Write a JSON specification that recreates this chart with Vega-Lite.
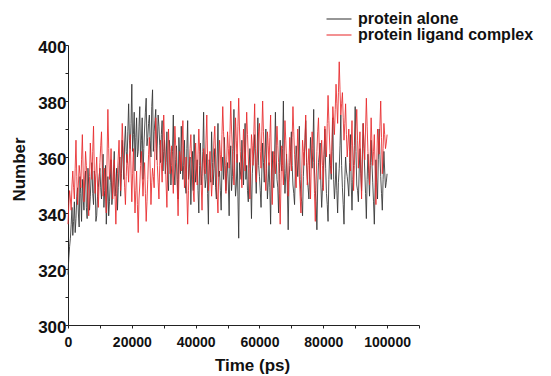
{
"$schema":"https://vega.github.io/schema/vega-lite/v6.json",
"width":351,"height":280,"autosize":"none",
"padding":{"left":68,"top":45,"right":132,"bottom":51},
"config":{"view":{"stroke":null},"font":"Liberation Sans"},
"data":{"values":[
{"t":0,"a":318,"b":336},{"t":250,"a":324,"b":343},{"t":500,"a":328,"b":348},{"t":750,"a":331,"b":345},{"t":1000,"a":336,"b":341},{"t":1250,"a":342,"b":350},{"t":1500,"a":332,"b":355},{"t":1750,"a":337,"b":349},{"t":2000,"a":344,"b":345},{"t":2250,"a":333,"b":356},
{"t":2500,"a":338,"b":366},{"t":2750,"a":346,"b":353},{"t":3000,"a":349,"b":343},{"t":3250,"a":340,"b":350},{"t":3500,"a":335,"b":357},{"t":3750,"a":353,"b":354},{"t":4000,"a":347,"b":349},{"t":4250,"a":337,"b":359},{"t":4500,"a":352,"b":368},{"t":4750,"a":345,"b":355},
{"t":5000,"a":341,"b":344},{"t":5250,"a":350,"b":352},{"t":5500,"a":355,"b":362},{"t":5750,"a":342,"b":357},{"t":6000,"a":338,"b":351},{"t":6250,"a":356,"b":345},{"t":6500,"a":350,"b":339},{"t":6750,"a":341,"b":353},{"t":7000,"a":346,"b":365},{"t":7250,"a":353,"b":358},
{"t":7500,"a":358,"b":352},{"t":7750,"a":347,"b":362},{"t":8000,"a":343,"b":371},{"t":8250,"a":355,"b":355},{"t":8500,"a":352,"b":347},{"t":8750,"a":337,"b":354},{"t":9000,"a":339,"b":360},{"t":9250,"a":346,"b":350},{"t":9500,"a":349,"b":342},{"t":9750,"a":353,"b":351},
{"t":10000,"a":356,"b":358},{"t":10250,"a":349,"b":364},{"t":10500,"a":345,"b":369},{"t":10750,"a":354,"b":356},{"t":11000,"a":361,"b":346},{"t":11250,"a":342,"b":351},{"t":11500,"a":348,"b":356},{"t":11750,"a":357,"b":347},{"t":12000,"a":336,"b":340},{"t":12250,"a":345,"b":360},
{"t":12500,"a":353,"b":377},{"t":12750,"a":339,"b":363},{"t":13000,"a":344,"b":352},{"t":13250,"a":351,"b":356},{"t":13500,"a":359,"b":363},{"t":13750,"a":343,"b":353},{"t":14000,"a":347,"b":345},{"t":14250,"a":355,"b":351},{"t":14500,"a":362,"b":359},{"t":14750,"a":346,"b":346},
{"t":15000,"a":350,"b":336},{"t":15250,"a":356,"b":347},{"t":15500,"a":341,"b":354},{"t":15750,"a":349,"b":360},{"t":16000,"a":357,"b":366},{"t":16250,"a":360,"b":356},{"t":16500,"a":346,"b":348},{"t":16750,"a":354,"b":361},{"t":17000,"a":366,"b":372},{"t":17250,"a":359,"b":364},
{"t":17500,"a":352,"b":357},{"t":17750,"a":365,"b":349},{"t":18000,"a":371,"b":343},{"t":18250,"a":362,"b":353},{"t":18500,"a":358,"b":361},{"t":18750,"a":369,"b":357},{"t":19000,"a":379,"b":351},{"t":19250,"a":366,"b":360},{"t":19500,"a":363,"b":368},{"t":19750,"a":372,"b":355},
{"t":20000,"a":386,"b":344},{"t":20250,"a":362,"b":354},{"t":20500,"a":368,"b":363},{"t":20750,"a":376,"b":350},{"t":21000,"a":355,"b":340},{"t":21250,"a":367,"b":348},{"t":21500,"a":374,"b":355},{"t":21750,"a":360,"b":343},{"t":22000,"a":362,"b":333},{"t":22250,"a":371,"b":345},
{"t":22500,"a":378,"b":350},{"t":22750,"a":358,"b":357},{"t":23000,"a":366,"b":362},{"t":23250,"a":374,"b":353},{"t":23500,"a":352,"b":346},{"t":23750,"a":363,"b":353},{"t":24000,"a":370,"b":358},{"t":24250,"a":376,"b":347},{"t":24500,"a":381,"b":337},{"t":24750,"a":364,"b":344},
{"t":25000,"a":367,"b":352},{"t":25250,"a":372,"b":361},{"t":25500,"a":375,"b":367},{"t":25750,"a":366,"b":356},{"t":26000,"a":360,"b":343},{"t":26250,"a":378,"b":351},{"t":26500,"a":384,"b":356},{"t":26750,"a":362,"b":353},{"t":27000,"a":369,"b":349},{"t":27250,"a":373,"b":363},
{"t":27500,"a":377,"b":374},{"t":27750,"a":359,"b":364},{"t":28000,"a":365,"b":357},{"t":28250,"a":375,"b":351},{"t":28500,"a":371,"b":345},{"t":28750,"a":364,"b":357},{"t":29000,"a":358,"b":366},{"t":29250,"a":368,"b":358},{"t":29500,"a":373,"b":351},{"t":29750,"a":355,"b":363},
{"t":30000,"a":362,"b":375},{"t":30250,"a":366,"b":366},{"t":30500,"a":354,"b":360},{"t":30750,"a":358,"b":350},{"t":31000,"a":369,"b":342},{"t":31250,"a":352,"b":358},{"t":31500,"a":348,"b":370},{"t":31750,"a":366,"b":361},{"t":32000,"a":362,"b":354},{"t":32250,"a":350,"b":358},
{"t":32500,"a":357,"b":364},{"t":32750,"a":362,"b":355},{"t":33000,"a":375,"b":347},{"t":33250,"a":355,"b":360},{"t":33500,"a":350,"b":371},{"t":33750,"a":359,"b":364},{"t":34000,"a":364,"b":358},{"t":34250,"a":352,"b":349},{"t":34500,"a":345,"b":339},{"t":34750,"a":367,"b":352},
{"t":35000,"a":360,"b":362},{"t":35250,"a":354,"b":359},{"t":35500,"a":371,"b":355},{"t":35750,"a":360,"b":364},{"t":36000,"a":352,"b":373},{"t":36250,"a":357,"b":360},{"t":36500,"a":366,"b":349},{"t":36750,"a":350,"b":354},{"t":37000,"a":347,"b":360},{"t":37250,"a":363,"b":347},
{"t":37500,"a":373,"b":336},{"t":37750,"a":352,"b":348},{"t":38000,"a":356,"b":357},{"t":38250,"a":360,"b":363},{"t":38500,"a":343,"b":368},{"t":38750,"a":355,"b":359},{"t":39000,"a":362,"b":352},{"t":39250,"a":348,"b":348},{"t":39500,"a":368,"b":344},{"t":39750,"a":359,"b":356},
{"t":40000,"a":351,"b":365},{"t":40250,"a":355,"b":357},{"t":40500,"a":359,"b":350},{"t":40750,"a":348,"b":361},{"t":41000,"a":340,"b":370},{"t":41250,"a":357,"b":362},{"t":41500,"a":365,"b":357},{"t":41750,"a":350,"b":350},{"t":42000,"a":354,"b":341},{"t":42250,"a":362,"b":353},
{"t":42500,"a":376,"b":363},{"t":42750,"a":356,"b":358},{"t":43000,"a":349,"b":354},{"t":43250,"a":352,"b":366},{"t":43500,"a":361,"b":375},{"t":43750,"a":347,"b":360},{"t":44000,"a":336,"b":348},{"t":44250,"a":359,"b":356},{"t":44500,"a":357,"b":362},{"t":44750,"a":351,"b":353},
{"t":45000,"a":369,"b":346},{"t":45250,"a":358,"b":352},{"t":45500,"a":350,"b":358},{"t":45750,"a":356,"b":366},{"t":46000,"a":363,"b":371},{"t":46250,"a":349,"b":361},{"t":46500,"a":345,"b":352},{"t":46750,"a":360,"b":346},{"t":47000,"a":372,"b":340},{"t":47250,"a":353,"b":355},
{"t":47500,"a":355,"b":366},{"t":47750,"a":348,"b":361},{"t":48000,"a":341,"b":355},{"t":48250,"a":356,"b":368},{"t":48500,"a":360,"b":378},{"t":48750,"a":352,"b":369},{"t":49000,"a":367,"b":361},{"t":49250,"a":357,"b":353},{"t":49500,"a":348,"b":347},{"t":49750,"a":354,"b":359},
{"t":50000,"a":358,"b":369},{"t":50250,"a":350,"b":363},{"t":50500,"a":339,"b":356},{"t":50750,"a":357,"b":368},{"t":51000,"a":364,"b":380},{"t":51250,"a":348,"b":370},{"t":51500,"a":353,"b":363},{"t":51750,"a":362,"b":356},{"t":52000,"a":377,"b":350},{"t":52250,"a":355,"b":362},
{"t":52500,"a":346,"b":374},{"t":52750,"a":350,"b":366},{"t":53000,"a":361,"b":358},{"t":53250,"a":346,"b":371},{"t":53500,"a":331,"b":381},{"t":53750,"a":358,"b":370},{"t":54000,"a":355,"b":362},{"t":54250,"a":352,"b":355},{"t":54500,"a":366,"b":349},{"t":54750,"a":359,"b":360},
{"t":55000,"a":350,"b":370},{"t":55250,"a":361,"b":362},{"t":55500,"a":372,"b":355},{"t":55750,"a":352,"b":366},{"t":56000,"a":357,"b":376},{"t":56250,"a":348,"b":368},{"t":56500,"a":344,"b":360},{"t":56750,"a":356,"b":352},{"t":57000,"a":363,"b":345},{"t":57250,"a":350,"b":358},
{"t":57500,"a":338,"b":368},{"t":57750,"a":354,"b":364},{"t":58000,"a":359,"b":357},{"t":58250,"a":362,"b":369},{"t":58500,"a":368,"b":379},{"t":58750,"a":355,"b":363},{"t":59000,"a":347,"b":351},{"t":59250,"a":360,"b":358},{"t":59500,"a":374,"b":365},{"t":59750,"a":357,"b":369},
{"t":60000,"a":353,"b":372},{"t":60250,"a":348,"b":362},{"t":60500,"a":342,"b":356},{"t":60750,"a":355,"b":369},{"t":61000,"a":365,"b":380},{"t":61250,"a":358,"b":369},{"t":61500,"a":351,"b":361},{"t":61750,"a":360,"b":354},{"t":62000,"a":370,"b":348},{"t":62250,"a":356,"b":360},
{"t":62500,"a":345,"b":369},{"t":62750,"a":351,"b":364},{"t":63000,"a":358,"b":357},{"t":63250,"a":349,"b":367},{"t":63500,"a":336,"b":375},{"t":63750,"a":355,"b":358},{"t":64000,"a":362,"b":343},{"t":64250,"a":352,"b":353},{"t":64500,"a":349,"b":362},{"t":64750,"a":361,"b":358},
{"t":65000,"a":376,"b":354},{"t":65250,"a":360,"b":364},{"t":65500,"a":352,"b":371},{"t":65750,"a":349,"b":364},{"t":66000,"a":340,"b":358},{"t":66250,"a":354,"b":347},{"t":66500,"a":366,"b":336},{"t":66750,"a":358,"b":351},{"t":67000,"a":355,"b":364},{"t":67250,"a":363,"b":357},
{"t":67500,"a":380,"b":350},{"t":67750,"a":356,"b":362},{"t":68000,"a":347,"b":373},{"t":68250,"a":354,"b":366},{"t":68500,"a":361,"b":359},{"t":68750,"a":348,"b":352},{"t":69000,"a":334,"b":346},{"t":69250,"a":351,"b":358},{"t":69500,"a":357,"b":367},{"t":69750,"a":362,"b":361},
{"t":70000,"a":369,"b":355},{"t":70250,"a":357,"b":367},{"t":70500,"a":350,"b":378},{"t":70750,"a":347,"b":369},{"t":71000,"a":343,"b":361},{"t":71250,"a":355,"b":354},{"t":71500,"a":364,"b":349},{"t":71750,"a":359,"b":360},{"t":72000,"a":353,"b":370},{"t":72250,"a":360,"b":361},
{"t":72500,"a":371,"b":353},{"t":72750,"a":352,"b":346},{"t":73000,"a":346,"b":340},{"t":73250,"a":344,"b":354},{"t":73500,"a":339,"b":366},{"t":73750,"a":353,"b":362},{"t":74000,"a":360,"b":357},{"t":74250,"a":364,"b":367},{"t":74500,"a":373,"b":375},{"t":74750,"a":358,"b":362},
{"t":75000,"a":352,"b":350},{"t":75250,"a":349,"b":357},{"t":75500,"a":345,"b":363},{"t":75750,"a":357,"b":354},{"t":76000,"a":367,"b":345},{"t":76250,"a":360,"b":358},{"t":76500,"a":356,"b":369},{"t":76750,"a":363,"b":364},{"t":77000,"a":377,"b":358},{"t":77250,"a":355,"b":347},
{"t":77500,"a":348,"b":337},{"t":77750,"a":344,"b":350},{"t":78000,"a":334,"b":362},{"t":78250,"a":350,"b":369},{"t":78500,"a":358,"b":374},{"t":78750,"a":361,"b":363},{"t":79000,"a":365,"b":352},{"t":79250,"a":350,"b":359},{"t":79500,"a":342,"b":366},{"t":79750,"a":349,"b":357},
{"t":80000,"a":355,"b":348},{"t":80250,"a":361,"b":361},{"t":80500,"a":370,"b":371},{"t":80750,"a":356,"b":365},{"t":81000,"a":347,"b":360},{"t":81250,"a":343,"b":372},{"t":81500,"a":337,"b":382},{"t":81750,"a":352,"b":373},{"t":82000,"a":361,"b":365},{"t":82250,"a":357,"b":359},
{"t":82500,"a":352,"b":354},{"t":82750,"a":362,"b":367},{"t":83000,"a":374,"b":378},{"t":83250,"a":352,"b":373},{"t":83500,"a":345,"b":368},{"t":83750,"a":350,"b":377},{"t":84000,"a":358,"b":386},{"t":84250,"a":348,"b":379},{"t":84500,"a":340,"b":372},{"t":84750,"a":351,"b":383},
{"t":85000,"a":356,"b":394},{"t":85250,"a":364,"b":384},{"t":85500,"a":375,"b":375},{"t":85750,"a":357,"b":379},{"t":86000,"a":349,"b":383},{"t":86250,"a":343,"b":374},{"t":86500,"a":336,"b":366},{"t":86750,"a":352,"b":372},{"t":87000,"a":360,"b":379},{"t":87250,"a":355,"b":368},
{"t":87500,"a":353,"b":360},{"t":87750,"a":350,"b":365},{"t":88000,"a":346,"b":370},{"t":88250,"a":358,"b":362},{"t":88500,"a":368,"b":355},{"t":88750,"a":351,"b":364},{"t":89000,"a":341,"b":373},{"t":89250,"a":352,"b":360},{"t":89500,"a":357,"b":348},{"t":89750,"a":364,"b":357},
{"t":90000,"a":378,"b":365},{"t":90250,"a":362,"b":371},{"t":90500,"a":350,"b":377},{"t":90750,"a":348,"b":366},{"t":91000,"a":344,"b":356},{"t":91250,"a":355,"b":363},{"t":91500,"a":363,"b":369},{"t":91750,"a":354,"b":356},{"t":92000,"a":348,"b":345},{"t":92250,"a":361,"b":359},
{"t":92500,"a":372,"b":372},{"t":92750,"a":363,"b":365},{"t":93000,"a":355,"b":359},{"t":93250,"a":347,"b":370},{"t":93500,"a":338,"b":381},{"t":93750,"a":352,"b":371},{"t":94000,"a":361,"b":362},{"t":94250,"a":354,"b":356},{"t":94500,"a":346,"b":350},{"t":94750,"a":357,"b":362},
{"t":95000,"a":366,"b":374},{"t":95250,"a":358,"b":365},{"t":95500,"a":351,"b":357},{"t":95750,"a":344,"b":362},{"t":96000,"a":336,"b":368},{"t":96250,"a":349,"b":355},{"t":96500,"a":359,"b":343},{"t":96750,"a":351,"b":357},{"t":97000,"a":345,"b":370},{"t":97250,"a":359,"b":366},
{"t":97500,"a":370,"b":361},{"t":97750,"a":361,"b":371},{"t":98000,"a":353,"b":380},{"t":98250,"a":347,"b":367},{"t":98500,"a":341,"b":354},{"t":98750,"a":352,"b":363},{"t":99000,"a":362,"b":372},{"t":99250,"a":355,"b":368},{"t":99500,"a":349,"b":363},{"t":99750,"a":351,"b":365},
{"t":100000,"a":354,"b":368}
]},
"transform":[{"fold":["a","b"],"as":["s","v"]}],
"mark":{"type":"line","strokeWidth":1,"opacity":0.85},
"encoding":{
"x":{"field":"t","type":"quantitative","scale":{"domain":[0,110000],"nice":false,"zero":false},
 "axis":{"values":[0,10000,20000,30000,40000,50000,60000,70000,80000,90000,100000,110000],
 "labelExpr":"datum.value % 20000 == 0 ? format(datum.value,'d') : ''",
 "labelOverlap":false,"labelFlush":false,"grid":false,"title":"Time (ps)",
 "domainColor":"#222","tickColor":"#222","tickSize":3,"labelPadding":7,
 "labelFontSize":14,"labelFontWeight":"bold","labelColor":"#111",
 "titleFontSize":17,"titleFontWeight":"bold","titleColor":"#111","titleX":184,"titleY":32}},
"y":{"field":"v","type":"quantitative","scale":{"domain":[300,400],"nice":false,"zero":false},
 "axis":{"values":[300,310,320,330,340,350,360,370,380,390,400],
 "labelExpr":"datum.value % 20 == 0 ? format(datum.value,'d') : ''",
 "labelOverlap":false,"grid":false,"title":"Number",
 "domainColor":"#222","tickColor":"#222","tickSize":3,"labelPadding":-1,"labelOffset":2,
 "labelFontSize":17,"labelFontWeight":"bold","labelColor":"#111",
 "titleFontSize":17,"titleFontWeight":"bold","titleColor":"#111","titleX":-40,"titleY":124}},
"color":{"field":"s","type":"nominal",
 "scale":{"domain":["a","b"],"range":["#333333","#e8282a"]},
 "legend":{"title":null,"orient":"none","legendX":263,"legendY":-34,
  "labelExpr":"datum.label == 'a' ? 'protein alone' : 'protein ligand complex'",
  "symbolType":"M-2,0H2","symbolSize":156,"symbolStrokeWidth":1.2,"labelOffset":11,"rowPadding":-6,"labelLimit":400,
  "labelFontSize":16,"labelFontWeight":"bold","labelColor":"#111","padding":0}}
}
}
